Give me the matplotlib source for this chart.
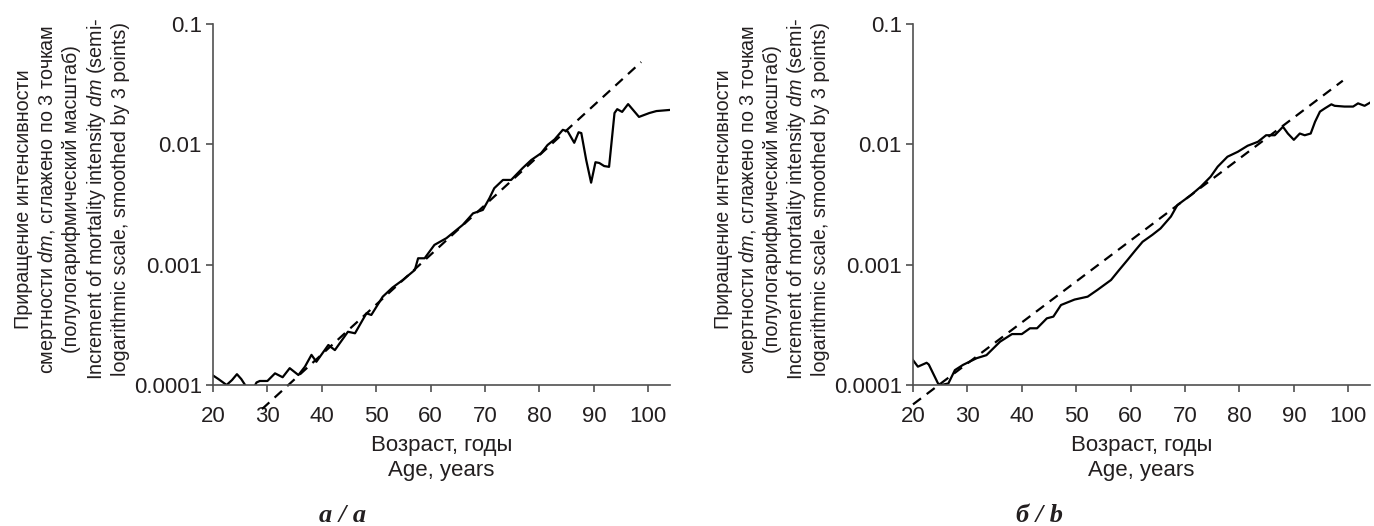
import numpy as np
import matplotlib
matplotlib.use('Agg')
import matplotlib.pyplot as plt

plt.rcParams['font.family'] = ['Liberation Sans', 'DejaVu Sans']
plt.rcParams['mathtext.fontset'] = 'custom'
plt.rcParams['mathtext.it'] = 'Liberation Sans:italic'
plt.rcParams['mathtext.rm'] = 'Liberation Sans'

# panel a: smoothed dm by age
age_a = [20.0, 21.0, 22.5, 23.5, 24.4, 25.2, 25.9, 26.5, 27.3, 28.0, 28.6, 30.0,
         31.4, 32.8, 34.1, 35.7, 36.9, 38.1, 39.0, 41.2, 42.4, 44.8, 46.1, 48.2,
         49.1, 51.2, 53.0, 54.9, 57.1, 57.7, 58.9, 60.7, 62.9, 65.9, 67.8, 69.6,
         70.8, 71.7, 73.3, 74.8, 76.9, 78.5, 80.3, 81.5, 82.8, 84.3, 85.2, 86.4,
         87.2, 87.7, 88.6, 89.5, 90.3, 91.0, 91.9, 92.8, 93.8, 94.3, 95.2, 96.3,
         98.3, 100.2, 101.5, 103.9]
dm_a = [0.000120, 0.000112, 0.000100, 0.000110, 0.000123, 0.000112, 0.000100,
        0.000089, 0.000091, 0.000105, 0.000108, 0.000108, 0.000125, 0.000116,
        0.000138, 0.000121, 0.000142, 0.000178, 0.000156, 0.000215, 0.000195,
        0.000277, 0.000269, 0.000394, 0.000382, 0.000542, 0.000646, 0.000746,
        0.000904, 0.00113, 0.00113, 0.00146, 0.00166, 0.00214, 0.00267, 0.00285,
        0.00356, 0.00432, 0.00506, 0.00506, 0.00634, 0.00741, 0.00843, 0.00988,
        0.0110, 0.0132, 0.0128, 0.0103, 0.0126, 0.0124, 0.0074, 0.0048, 0.0071,
        0.0070, 0.0066, 0.0065, 0.0182, 0.0196, 0.0186, 0.0216, 0.0169, 0.0182,
        0.0189, 0.0193]
fit_age_a = [29.0, 98.7]
fit_dm_a = [0.000063, 0.0483]

# panel b
age_b = [20.0, 20.9, 22.5, 22.9, 24.6, 25.2, 26.5, 27.7, 29.2, 31.7, 33.5, 36.0,
         38.2, 40.0, 41.5, 42.8, 44.6, 45.8, 47.2, 49.7, 52.1, 53.9, 56.4, 57.9,
         59.4, 60.9, 62.2, 64.0, 65.5, 67.4, 68.6, 71.1, 72.9, 74.7, 76.0, 77.8,
         79.7, 81.5, 83.4, 84.9, 86.5, 88.0, 88.9, 90.0, 91.1, 92.0, 93.1, 93.9,
         94.8, 95.7, 96.9, 97.5, 99.3, 100.9, 101.8, 103.0, 104.3]
dm_b = [0.000161, 0.000142, 0.000153, 0.000148, 0.000103, 0.000100, 0.000103,
        0.000133, 0.000147, 0.000167, 0.000177, 0.000229, 0.000265, 0.000265,
        0.000296, 0.000296, 0.000358, 0.000370, 0.000462, 0.000513, 0.000542,
        0.000617, 0.000746, 0.000904, 0.00109, 0.00132, 0.00155, 0.00177,
        0.00200, 0.00251, 0.00313, 0.00379, 0.00445, 0.00538, 0.00652, 0.00789,
        0.00867, 0.00973, 0.0105, 0.0119, 0.0119, 0.0140, 0.0123, 0.0109, 0.0123,
        0.0119, 0.0123, 0.0154, 0.0187, 0.0199, 0.0215, 0.0209, 0.0206, 0.0206,
        0.0219, 0.0209, 0.0226]
fit_age_b = [20.0, 99.0]
fit_dm_b = [0.000069, 0.0338]

x_ticks = [20, 30, 40, 50, 60, 70, 80, 90, 100]
y_ticks = [0.0001, 0.001, 0.01, 0.1]
y_labels = ['0.0001', '0.001', '0.01', '0.1']

ylab = ('Приращение интенсивности\n'
        'смертности $dm$, сглажено по 3 точкам\n'
        '(полулогарифмический масштаб)\n'
        'Increment of mortality intensity $dm$ (semi-\n'
        'logarithmic scale, smoothed by 3 points)')
xlab = 'Возраст, годы\nAge, years'
captions = ['а / a', 'б / b']
caption_x = [343, 1039]

txt = '#231f20'
fig = plt.figure(figsize=(13.74, 5.26), dpi=100)
lefts = [213 / 1374, 913 / 1374]
series = [(age_a, dm_a, fit_age_a, fit_dm_a), (age_b, dm_b, fit_age_b, fit_dm_b)]

for i, (l, (ag, dm, fa, fd)) in enumerate(zip(lefts, series)):
    ax = fig.add_axes([l, 1 - 385 / 526, 457 / 1374, 361 / 526])
    ax.plot(ag, dm, color='black', lw=1.6)
    ax.plot(fa, fd, color='black', lw=1.6, ls=(0, (4.5, 3.2)), clip_on=False)
    ax.set_yscale('log')
    ax.set_xlim(20, 104)
    ax.set_ylim(0.0001, 0.1)
    ax.set_xticks(x_ticks)
    ax.set_xticklabels([str(t) for t in x_ticks])
    ax.set_yticks(y_ticks)
    ax.set_yticklabels(y_labels)
    ax.yaxis.set_minor_locator(matplotlib.ticker.NullLocator())
    for s in ['top', 'right']:
        ax.spines[s].set_visible(False)
    for s in ['left', 'bottom']:
        ax.spines[s].set_color('#505050')
        ax.spines[s].set_linewidth(1.2)
    ax.tick_params(axis='both', direction='out', length=5, width=1.2,
                   color='#505050', labelsize=16, labelcolor=txt)
    ax.tick_params(axis='x', pad=10)
    ax.tick_params(axis='y', pad=3)
    ax.set_xlabel(xlab, fontsize=16, color=txt, linespacing=1.25, labelpad=6)
    fig.text((72 + 700 * i) / 1374, 1 - 199 / 526, ylab, rotation=90,
             ha='center', va='center', multialignment='center',
             fontsize=14.2, color=txt, linespacing=1.2)
    fig.text(caption_x[i] / 1374, 1 - 515 / 526, captions[i],
             ha='center', va='center', fontsize=19, color=txt,
             family=['Liberation Serif', 'DejaVu Serif'],
             style='italic', weight='bold')

fig.savefig('out.png', dpi=100)
